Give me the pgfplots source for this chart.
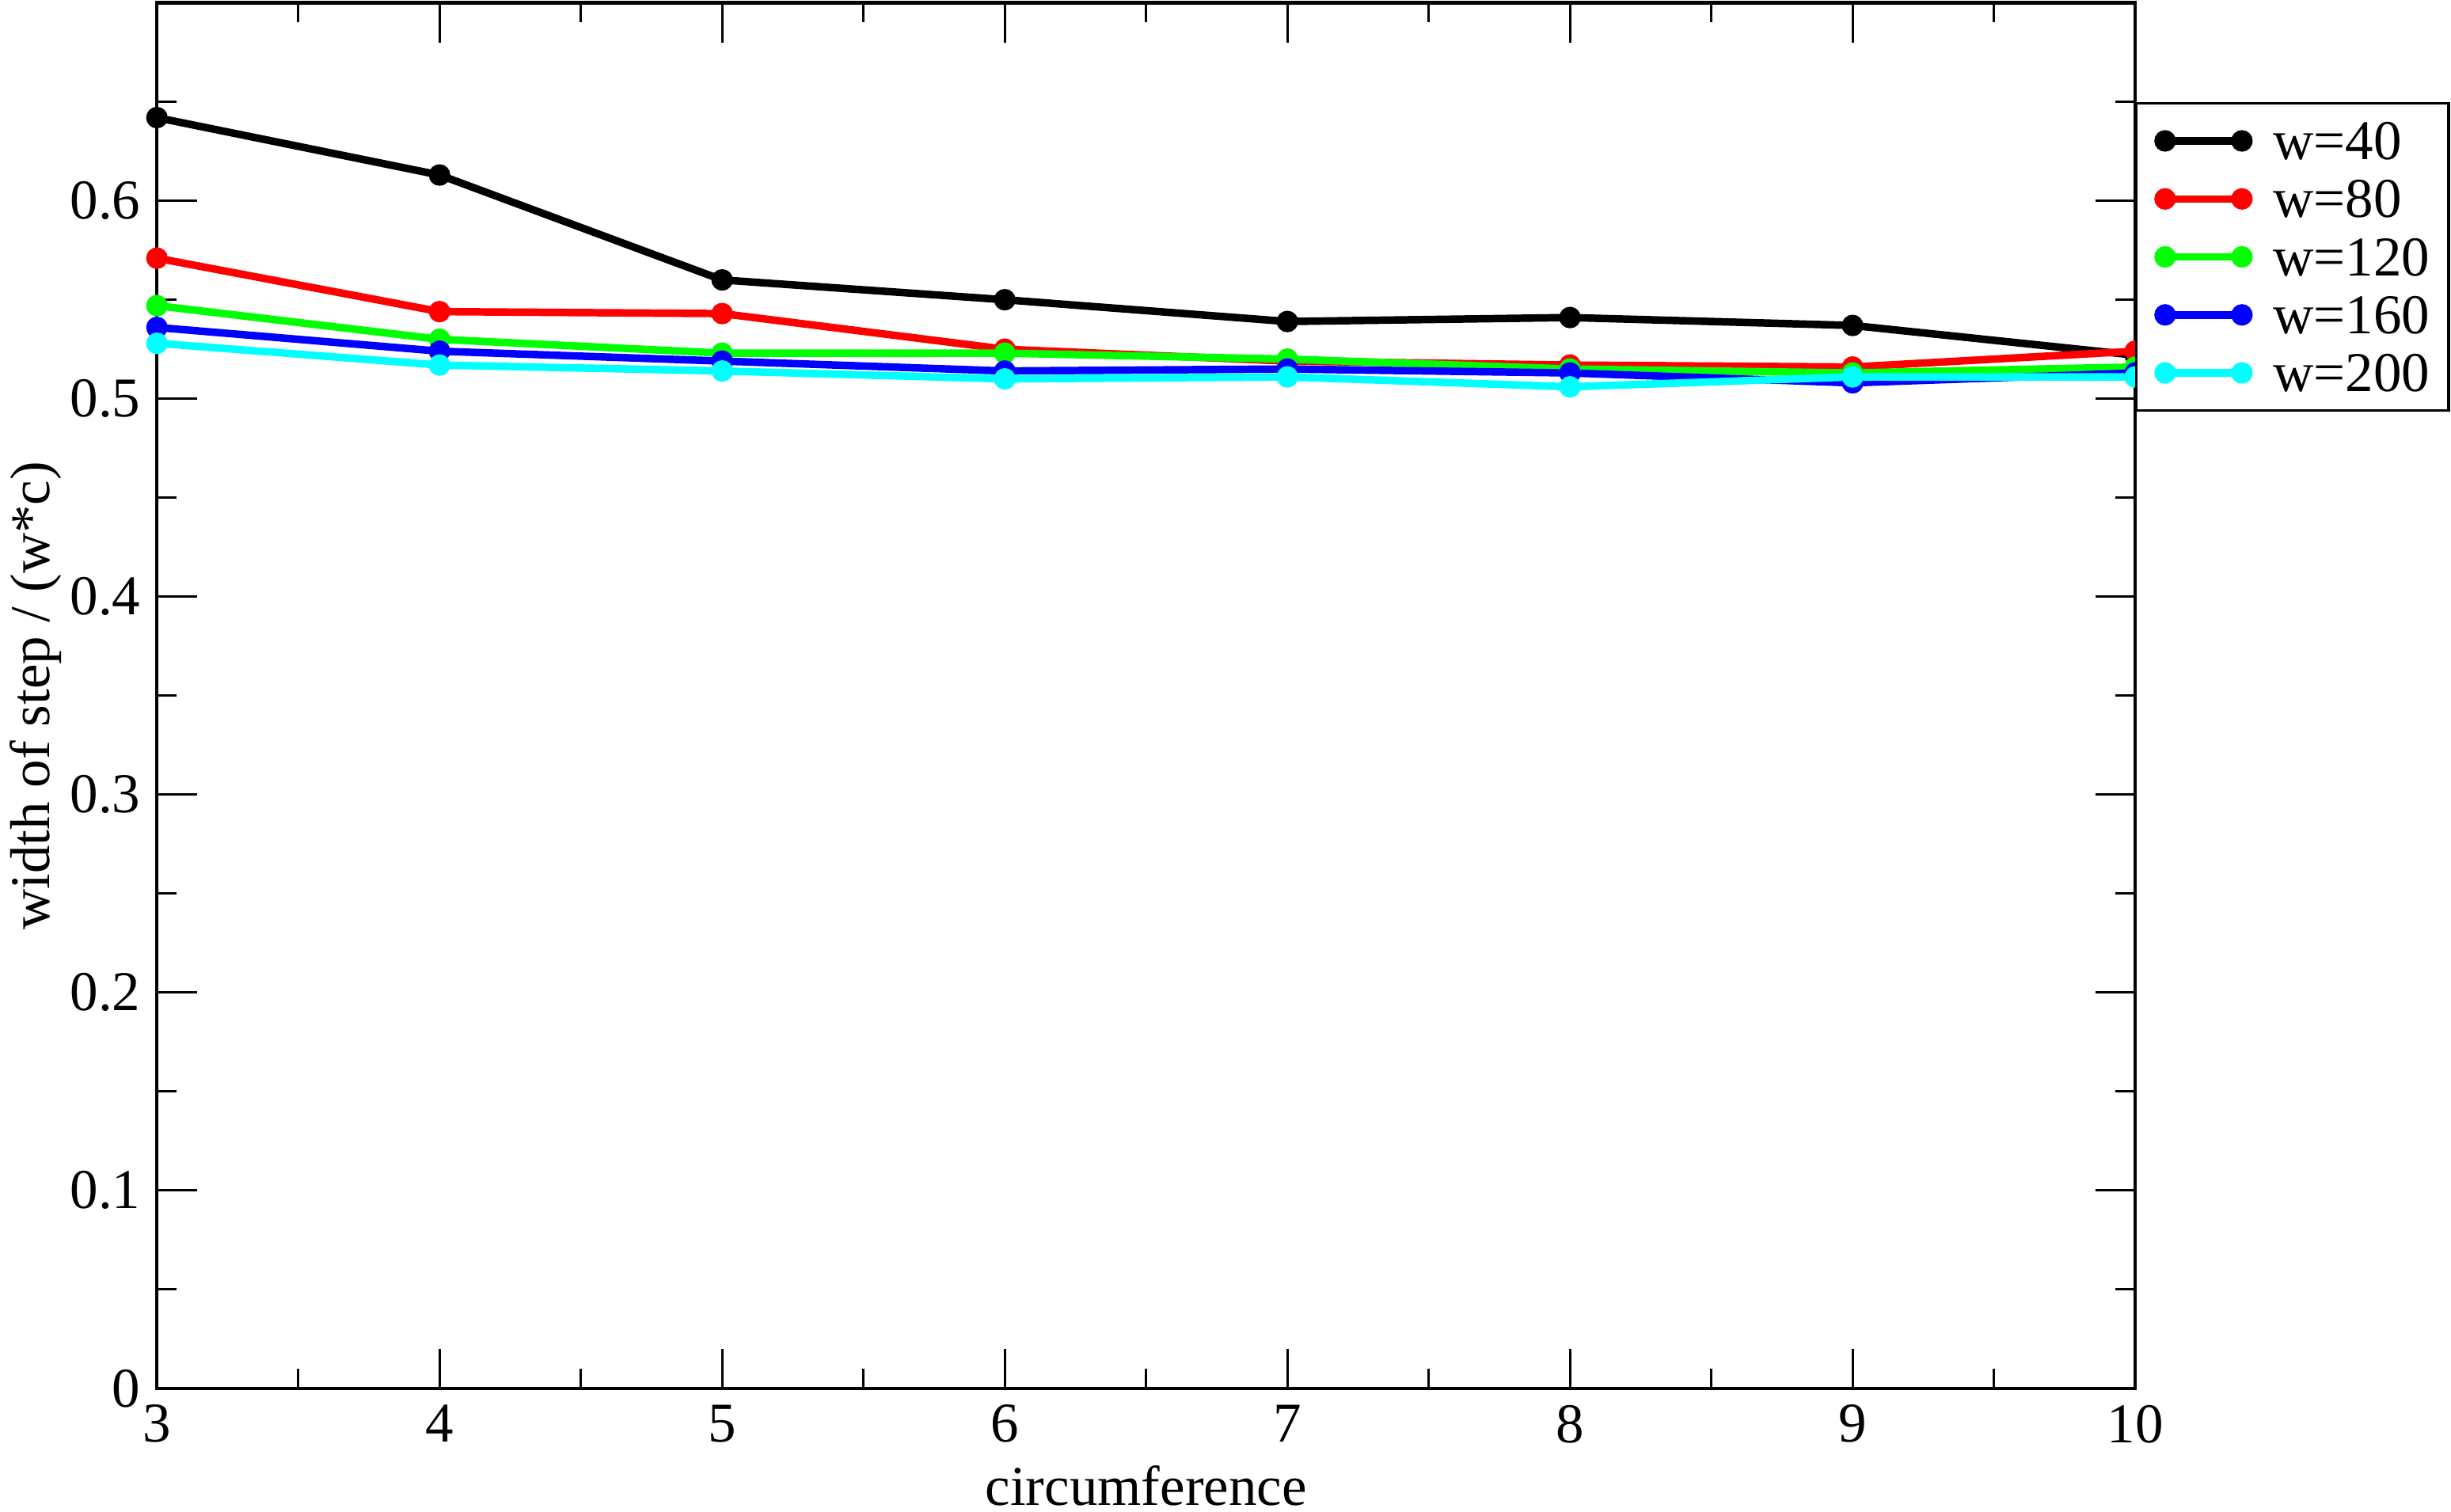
\documentclass[border=0pt]{standalone}
\usepackage{fontspec}
\setmainfont{Liberation Serif}
\usepackage{pgfplots}
\pgfplotsset{compat=1.18}

% xmgrace colours
\definecolor{grred}{RGB}{255,0,0}
\definecolor{grgreen}{RGB}{0,255,0}
\definecolor{grblue}{RGB}{0,0,255}
\definecolor{grcyan}{RGB}{0,255,255}

\newcommand{\figfont}{\fontsize{12}{14.4}\selectfont}

\begin{document}
\begin{tikzpicture}
\useasboundingbox (-33.5pt,-26.3pt) rectangle (489.7pt,296.4pt);
\begin{axis}[
  at={(0,0)}, anchor=south west,
  scale only axis,
  width=422.3pt, height=295.8pt,
  xmin=3, xmax=10, ymin=0, ymax=0.7,
  xtick={3,4,5,6,7,8,9,10},
  ytick={0,0.1,0.2,0.3,0.4,0.5,0.6},
  minor xtick={3.5,4.5,5.5,6.5,7.5,8.5,9.5},
  minor ytick={0.05,0.15,0.25,0.35,0.45,0.55,0.65},
  major tick length=8.5pt, minor tick length=4.2pt,
  tick style={line width=0.55pt, black},
  axis line style={line width=0.7pt},
  /pgf/number format/assume math mode=true,
  tick label style={font=\figfont},
  label style={font=\figfont},
  xlabel={circumference},
  ylabel={width of step / (w*c)},
  xlabel shift=-2pt,
  ylabel shift=-5pt,
  clip=false,
  every axis plot/.append style={line width=1.6pt, mark=*, mark size=2.1pt, mark options={line width=0.4pt}},
  legend image code/.code={\draw[mark repeat=1,#1] plot coordinates {(0pt,0pt) (16.4pt,0pt)};},
  legend cell align=left,
  legend style={at={(1,0.9283)}, anchor=north west, draw=black, line width=0.56pt, fill=white,
    font=\figfont, inner xsep=4pt, inner ysep=4pt, row sep=4.4pt, column sep=4.6pt,
    nodes={inner sep=0pt, text depth=0pt}},
]
\addplot[color=black] coordinates {
  (3,0.642) (4,0.613) (5,0.560) (6,0.550) (7,0.539) (8,0.541) (9,0.537) (10,0.522) };
\addlegendentry{w=40}
\addplot[color=grred] coordinates {
  (3,0.571) (4,0.544) (5,0.543) (6,0.525) (7,0.519) (8,0.517) (9,0.516) (10,0.524) };
\addlegendentry{w=80}
\addplot[color=grgreen] coordinates {
  (3,0.547) (4,0.530) (5,0.523) (6,0.523) (7,0.520) (8,0.515) (9,0.513) (10,0.516) };
\addlegendentry{w=120}
\addplot[color=grblue] coordinates {
  (3,0.536) (4,0.524) (5,0.519) (6,0.514) (7,0.515) (8,0.513) (9,0.508) (10,0.513) };
\addlegendentry{w=160}
\addplot[color=grcyan] coordinates {
  (3,0.528) (4,0.517) (5,0.514) (6,0.510) (7,0.511) (8,0.506) (9,0.511) (10,0.511) };
\addlegendentry{w=200}
\end{axis}
\end{tikzpicture}
\end{document}
